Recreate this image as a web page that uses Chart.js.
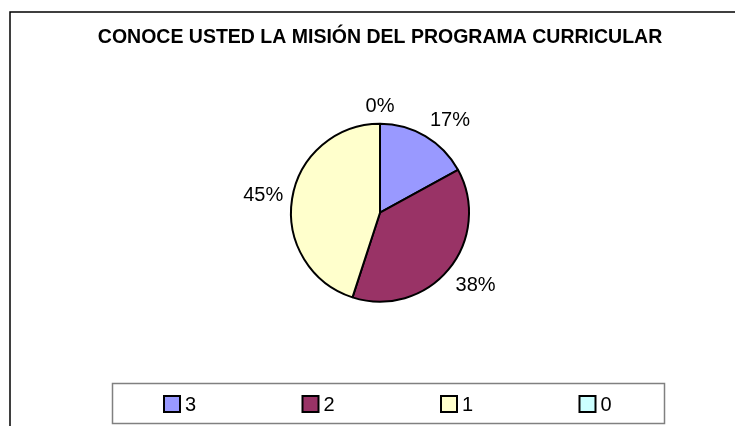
<!DOCTYPE html>
<html>
<head>
<meta charset="utf-8">
<script src="https://cdn.jsdelivr.net/npm/chart.js@4/dist/chart.umd.min.js"></script>
<style>
  html, body { margin: 0; padding: 0; background: #fff; overflow: hidden; }
  canvas { display: block; }
</style>
</head>
<body>
<canvas id="c" width="735" height="426"></canvas>
<script>
const titleText = 'CONOCE USTED LA MISIÓN DEL PROGRAMA CURRICULAR';
const categories = ['3', '2', '1', '0'];
const percentValues = [17, 38, 45, 0];
const sliceColors = ['#9999FF', '#993366', '#FFFFCC', '#CCFFFF'];

const FONT = "'Liberation Sans', Arial, sans-serif";

const framePlugin = {
  id: 'frame',
  beforeDraw(chart) {
    const ctx = chart.ctx;
    ctx.save();
    ctx.fillStyle = '#fff';
    ctx.fillRect(0, 0, chart.width, chart.height);
    ctx.strokeStyle = '#000';
    ctx.lineWidth = 1.5;
    ctx.beginPath();
    ctx.moveTo(10, chart.height + 5);
    ctx.lineTo(10, 12);
    ctx.lineTo(chart.width + 5, 12);
    ctx.stroke();
    ctx.restore();
  }
};

const clamp1 = v => Math.max(-1, Math.min(1, v));

const labelPlugin = {
  id: 'pctLabels',
  afterDatasetsDraw(chart) {
    const ctx = chart.ctx;
    const meta = chart.getDatasetMeta(0);
    ctx.save();
    ctx.font = '20px ' + FONT;
    ctx.fillStyle = '#000';
    ctx.textAlign = 'center';
    ctx.textBaseline = 'middle';
    meta.data.forEach((arc, i) => {
      const p = arc.getProps(['x', 'y', 'startAngle', 'endAngle', 'outerRadius'], true);
      const mid = (p.startAngle + p.endAngle) / 2;
      const dx = Math.cos(mid), dy = Math.sin(mid);
      const txt = Math.round(chart.data.datasets[0].data[i]) + '%';
      const w = ctx.measureText(txt).width;
      const hh = 9;
      const ar = p.outerRadius + 9;
      const ax = p.x + dx * ar, ay = p.y + dy * ar;
      const x = ax + clamp1(dx * 2) * w / 2;
      const y = ay + clamp1(dy * 2) * hh + 1;
      ctx.fillText(txt, x, y);
    });
    ctx.restore();
  }
};

const legendPlugin = {
  id: 'boxLegend',
  afterDraw(chart) {
    const ctx = chart.ctx;
    const bx = 112.5, by = 383.5, bw = 552, bh = 40;
    ctx.save();
    ctx.strokeStyle = '#808080';
    ctx.lineWidth = 1.5;
    ctx.strokeRect(bx, by, bw, bh);
    ctx.font = '20px ' + FONT;
    ctx.textBaseline = 'middle';
    ctx.textAlign = 'left';
    const colors = chart.data.datasets[0].backgroundColor;
    chart.data.labels.forEach((lab, i) => {
      const sx = 164 + i * 138.5;
      const sy = 396;
      ctx.fillStyle = colors[i];
      ctx.fillRect(sx, sy, 16, 16);
      ctx.strokeStyle = '#000';
      ctx.lineWidth = 2;
      ctx.strokeRect(sx, sy, 16, 16);
      ctx.fillStyle = '#000';
      ctx.fillText(lab, sx + 21, sy + 9);
    });
    ctx.restore();
  }
};

new Chart(document.getElementById('c'), {
  type: 'pie',
  data: {
    labels: categories,
    datasets: [{
      data: percentValues,
      backgroundColor: sliceColors,
      borderColor: '#000',
      borderWidth: 2,
      borderAlign: 'center',
      radius: 89
    }]
  },
  options: {
    responsive: false,
    animation: false,
    devicePixelRatio: 1,
    layout: { padding: { left: 25, right: 0, top: 0, bottom: 60 } },
    plugins: {
      legend: { display: false },
      tooltip: { enabled: false },
      title: {
        display: true,
        text: titleText,
        color: '#000',
        font: { family: FONT, size: 19.5, weight: 'bold' },
        padding: { top: 26, bottom: 10 }
      }
    }
  },
  plugins: [framePlugin, labelPlugin, legendPlugin]
});
</script>
</body>
</html>
